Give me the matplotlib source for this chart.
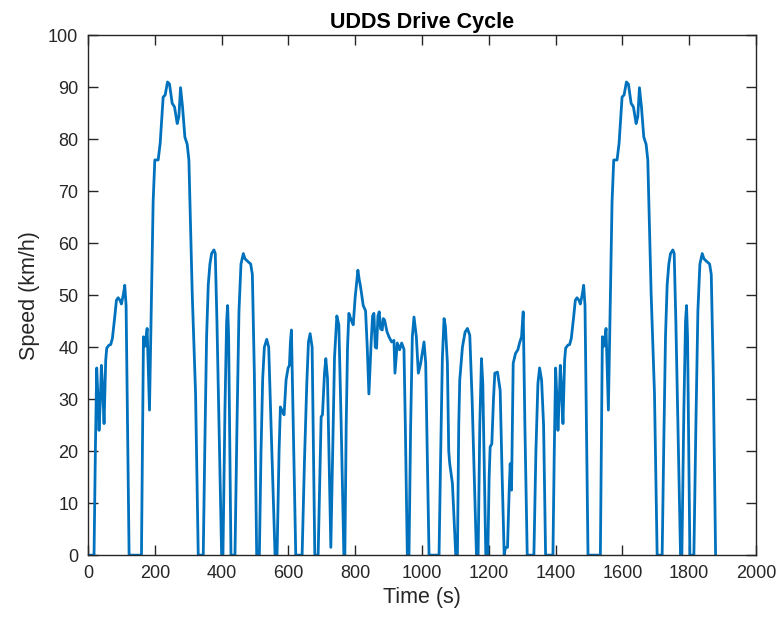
"""UDDS drive cycle (with the first phase repeated), redrawn from a picture."""
import matplotlib
matplotlib.use('Agg')
import matplotlib.pyplot as plt

# Phase 1 of the cycle (0 - 505 s)
bag1_time = [0, 18, 22, 26, 30, 33, 37, 40, 44, 48, 51, 53, 56, 63, 68, 73,
             80, 85, 90, 96, 100, 106, 110, 114, 123, 160, 166, 171, 177,
             184, 190, 195, 200, 210, 216, 225, 231, 238, 244, 252, 259, 267,
             272, 277, 283, 290, 297, 302, 312, 322, 330, 345, 350, 355, 360,
             365, 370, 377, 381, 386, 393, 400, 404, 410, 415, 418, 421, 428,
             440, 446, 452, 458, 465, 470, 478, 487, 492, 498, 505]
bag1_speed = [0, 0, 20, 36, 30, 24, 30, 36.5, 32, 25.3, 33, 37.5, 39.8, 40.4,
              40.5, 41.7, 45.8, 49, 49.5, 49, 48.3, 50.2, 51.9, 48, 0, 0, 42,
              40.2, 43.6, 27.9, 50, 68, 76, 76, 79.2, 88.1, 88.5, 91, 90.6,
              86.9, 86.2, 83, 84.3, 89.9, 86.2, 80.4, 79, 76, 50.3, 31.1, 0,
              0, 22, 42, 52, 56, 58, 58.7, 58, 45, 22, 0, 0, 28, 45, 48, 42,
              0, 0, 25, 47, 56, 58, 57, 56.5, 56, 54, 35, 0]

# Phase 2 of the cycle (505 - 1370 s)
bag2_time = [513, 518, 523, 528, 535, 541, 548, 560, 566, 572, 576, 582, 587,
             593, 599, 603, 606, 609, 613, 622, 641, 648, 655, 660, 665, 671,
             679, 689, 694, 698, 702, 708, 712, 717, 722, 727, 732, 738, 745,
             751, 758, 766, 769, 773, 777, 781, 788, 794, 800, 808, 812, 816,
             824, 831, 836, 841, 848, 852, 856, 860, 864, 868, 872, 876, 881,
             884, 888, 895, 901, 909, 916, 919, 926, 933, 939, 946, 950, 956,
             961, 966, 971, 976, 983, 989, 996, 1006, 1011, 1016, 1021, 1051,
             1056, 1061, 1066, 1070, 1076, 1080, 1083, 1091, 1101, 1106, 1110,
             1113, 1121, 1129, 1136, 1143, 1150, 1163, 1168, 1173, 1178, 1182,
             1191, 1197, 1201, 1204, 1209, 1214, 1218, 1226, 1234, 1240, 1246,
             1250, 1256, 1261, 1264, 1268, 1273, 1280, 1287, 1292, 1298, 1303,
             1308, 1315, 1335, 1341, 1347, 1352, 1358, 1364, 1370]
bag2_speed = [0, 20, 34, 40, 41.5, 40, 25, 0, 0, 20, 28.5, 27.6, 27, 33.7,
              36, 36.5, 41, 43.3, 30, 0, 0, 18, 33, 41, 42.6, 40, 0, 0, 15,
              26.6, 27, 35, 37.8, 34, 18, 1.5, 18, 38, 46, 44.3, 25, 0, 0, 25,
              40, 46.5, 45.2, 44.3, 49.7, 54.8, 53, 51.6, 48, 47, 40, 31,
              41.3, 46, 46.5, 40, 39.8, 46, 46.8, 43.5, 43.3, 45.5, 45.2, 43,
              42, 41, 41.3, 35, 40.8, 39.5, 40.8, 39.6, 25, 0, 0, 25, 42,
              45.8, 42, 35, 36.9, 41, 37, 18, 0, 0, 20, 38, 45.5, 44, 36.9,
              20, 17.6, 13.8, 0, 0, 25, 33.7, 40, 42.9, 43.6, 42.3, 30, 0, 0,
              25, 37.8, 33, 0, 0, 15, 20.8, 21.4, 30, 35, 35.2, 31.7, 15, 0,
              1.5, 1.5, 12.5, 17.6, 12.5, 36.9, 38.8, 39.5, 40.8, 42, 46.8,
              25, 0, 0, 20, 33, 36, 33.7, 25, 0]

# Phase 1 is driven again after the cycle
repeat_start = 1374

time = bag1_time + bag2_time + [t + repeat_start for t in bag1_time]
speed = bag1_speed + bag2_speed + bag1_speed

plt.rcParams['font.family'] = ['Liberation Sans', 'DejaVu Sans']

fig = plt.figure(figsize=(7.81, 6.28), dpi=100)
ax = fig.add_axes([0.1127, 0.116, 0.8553, 0.828])

ax.plot(time, speed, color='#0072BD', lw=2.0)

ax.set_xlim(0, 2000)
ax.set_ylim(0, 100)
ax.set_xticks(range(0, 2001, 200))
ax.set_yticks(range(0, 101, 10))

axis_color = '#262626'
for spine in ax.spines.values():
    spine.set_color(axis_color)
    spine.set_linewidth(1.0)
ax.tick_params(direction='in', length=7, width=1.0, top=True, right=True,
               color=axis_color, labelcolor=axis_color, labelsize=13, pad=7)

ax.set_title('UDDS Drive Cycle', fontsize=15.5, fontweight='bold',
             color='black', pad=5)
ax.set_xlabel('Time (s)', fontsize=15.5, color=axis_color, labelpad=4)
ax.set_ylabel('Speed (km/h)', fontsize=15.5, color=axis_color, labelpad=6)

fig.savefig('out.png', dpi=100)
